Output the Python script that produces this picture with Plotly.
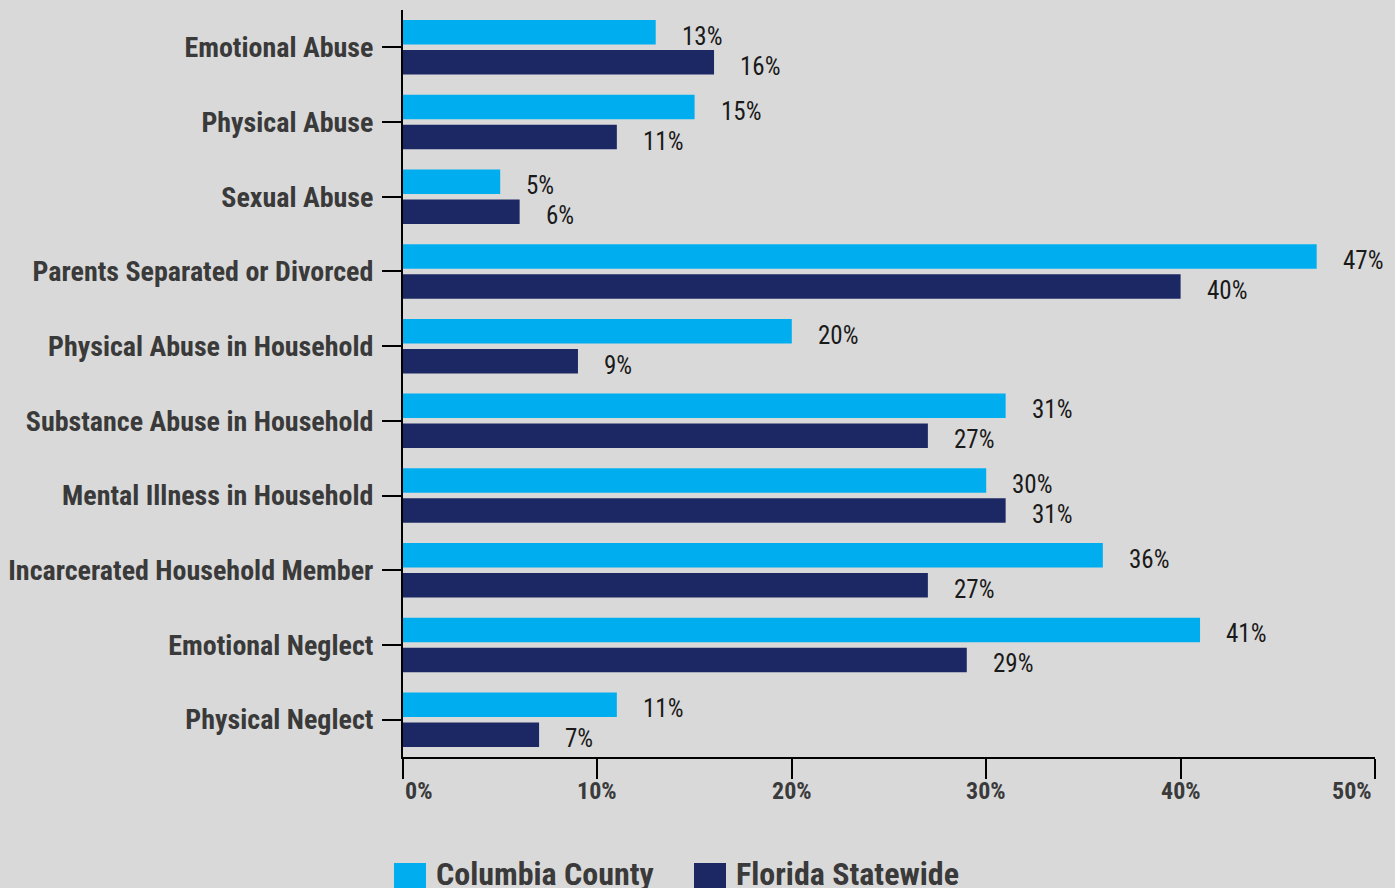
import plotly.graph_objects as go

categories = [
    "Emotional Abuse", "Physical Abuse", "Sexual Abuse", "Parents Separated or Divorced",
    "Physical Abuse in Household", "Substance Abuse in Household", "Mental Illness in Household",
    "Incarcerated Household Member", "Emotional Neglect", "Physical Neglect",
]
series_names = ["Columbia County", "Florida Statewide"]
columbia = [13, 15, 5, 47, 20, 31, 30, 36, 41, 11]
florida = [16, 11, 6, 40, 9, 27, 31, 27, 29, 7]
tick_values = [0, 10, 20, 30, 40, 50]
tick_labels = ["0%", "10%", "20%", "30%", "40%", "50%"]

LIGHT = "#00AEEF"
DARK = "#1C2864"
BG = "#D9D9D9"
TXT = "#3A3A3A"
FONT = "Roboto Condensed"

fig = go.Figure()
for name, vals, col in [(series_names[0], columbia, LIGHT), (series_names[1], florida, DARK)]:
    fig.add_trace(go.Bar(y=categories, x=vals, name=name, orientation="h",
                         marker=dict(color=col, line=dict(width=0)), showlegend=False,
                         hoverinfo="x+y"))

# value labels
for vals, ysh in [(columbia, 11), (florida, -19)]:
    for c, v in zip(categories, vals):
        fig.add_annotation(x=v, y=c, xref="x", yref="y", text=f"{v}%", showarrow=False,
                           xanchor="left", yanchor="middle", xshift=24, yshift=ysh,
                           font=dict(family=FONT, size=25, color="#1A1A1A"))

# x tick labels
for tv, tl in zip(tick_values, tick_labels):
    if tv == tick_values[0]:
        anc, xs = "left", 0
    elif tv == tick_values[-1]:
        anc, xs = "right", -1
    else:
        anc, xs = "center", 0
    fig.add_annotation(x=tv, y=0, xref="x", yref="paper", text=tl, showarrow=False,
                       xanchor=anc, yanchor="top", xshift=xs, yshift=-18,
                       font=dict(family=FONT, size=24, color=TXT, weight="bold"))

# legend (drawn manually for large swatches)
W, H = 1395, 888
L, R, T, B = 403, 20, 10, 131
pw, ph = W - L - R, H - T - B
def px(x):
    return (x - L) / pw
def py(y):
    return (H - B - y) / ph
for (sx, tx), name, col in zip([(394, 434), (694, 734)], series_names, [LIGHT, DARK]):
    fig.add_shape(type="rect", xref="paper", yref="paper", x0=px(sx), x1=px(sx + 32),
                  y0=py(863), y1=py(895), fillcolor=col, line=dict(width=0), layer="above")
    fig.add_annotation(x=px(tx), y=py(874), xref="paper", yref="paper", text=name,
                       showarrow=False, xanchor="left", yanchor="middle",
                       font=dict(family=FONT, size=32, color=TXT, weight="bold"))

fig.update_layout(
    width=W, height=H,
    margin=dict(l=L, r=R, t=T, b=B, pad=0, autoexpand=False),
    paper_bgcolor=BG, plot_bgcolor=BG,
    barmode="group", bargap=0.197, bargroupgap=0.183,
    font=dict(family=FONT, color=TXT),
    xaxis=dict(range=[0, 50], tickvals=tick_values, showticklabels=False, showgrid=False,
               zeroline=False, showline=True, linecolor="black", linewidth=2, automargin=False,
               ticks="outside", ticklen=20, tickwidth=2, tickcolor="black"),
    yaxis=dict(categoryorder="array", categoryarray=categories, autorange="reversed",
               showgrid=False, zeroline=False, showline=True, linecolor="black", linewidth=2,
               ticks="outside", ticklen=19, tickwidth=2, tickcolor="black", automargin=False,
               ticklabelstandoff=3,
               tickfont=dict(family=FONT, size=28, color=TXT, weight="bold")),
)
fig.write_html("out.html", config={"displayModeBar": False},
               post_script="document.body.style.margin='0';document.body.style.background='%s';" % BG)
